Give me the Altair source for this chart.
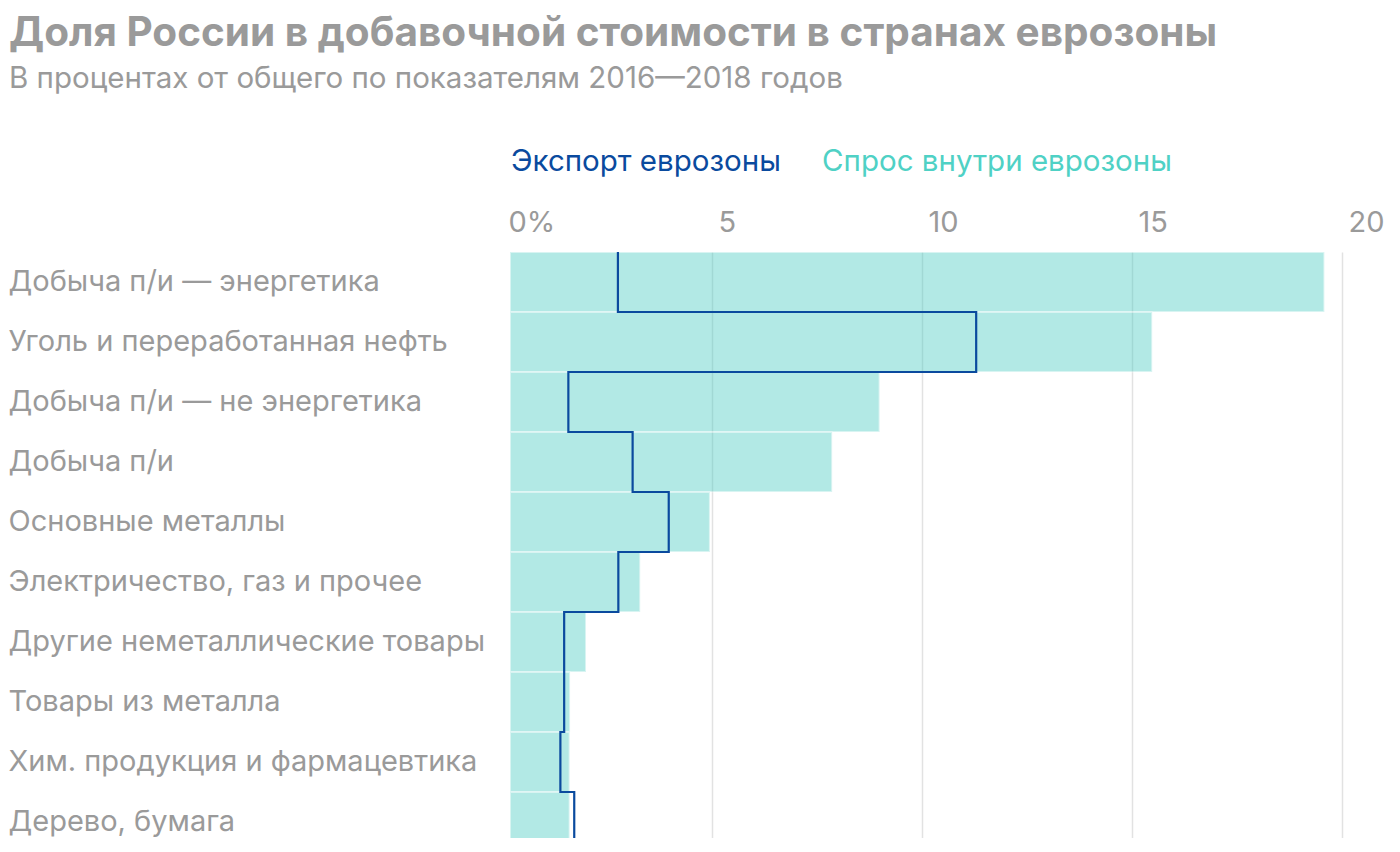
import altair as alt
import pandas as pd

categories = [
    "Добыча п/и — энергетика",
    "Уголь и переработанная нефть",
    "Добыча п/и — не энергетика",
    "Добыча п/и",
    "Основные металлы",
    "Электричество, газ и прочее",
    "Другие неметаллические товары",
    "Товары из металла",
    "Хим. продукция и фармацевтика",
    "Дерево, бумага",
]
demand_inside = [19.58, 15.48, 8.99, 7.86, 4.95, 3.29, 2.00, 1.62, 1.61, 1.61]
export_eurozone = [2.76, 11.29, 1.58, 3.11, 3.97, 2.77, 1.48, 1.48, 1.39, 1.72]
x_ticks = [0, 5, 10, 15, 20]
legend_names = ["Экспорт еврозоны", "Спрос внутри еврозоны"]
series_colors = ["#0a4a9e", "#4ecdc4"]

title_text = "Доля России в добавочной стоимости в странах еврозоны"
subtitle_text = "В процентах от общего по показателям 2016—2018 годов"

FONT = "Inter"
GRAY = "#9a9a9a"

bars_df = pd.DataFrame({"cat": categories, "demand": demand_inside})
n = len(categories)
line_df = pd.DataFrame({
    "idx": list(range(n)) + [n],
    "export": export_eurozone + [export_eurozone[-1]],
})

x_scale = alt.Scale(domain=[x_ticks[0], x_ticks[-1]], nice=False, zero=True)
row_range = [42, 642]

x_axis = alt.Axis(
    orient="top", values=x_ticks, grid=True, gridColor="#e2e2e2", gridWidth=1.5,
    gridOpacity={"condition": {"test": "datum.value === 0", "value": 0}, "value": 1},
    domain=False, ticks=False, labelAlign="left", labelOffset=6,
    labelBaseline="middle", labelPadding=-12, labelFontSize=29, labelColor=GRAY,
    labelFont=FONT, labelExpr="datum.value == 0 ? '0%' : datum.label", title=None,
)

y_axis = alt.Axis(
    domain=False, ticks=False, tickSize=0, labelAlign="left", labelPadding=494,
    labelFontSize=29, labelColor=GRAY, labelFont=FONT, labelLimit=600, title=None,
)

bars = alt.Chart(bars_df).mark_bar(
    color=series_colors[1], opacity=0.43, stroke="white", strokeWidth=2,
    strokeOpacity=0.5, x2Offset=8, clip=True,
).encode(
    x=alt.X("demand:Q", scale=x_scale, axis=x_axis),
    x2=alt.datum(0),
    y=alt.Y("cat:N", sort=categories,
            scale=alt.Scale(range=row_range, paddingInner=0, paddingOuter=0),
            axis=y_axis),
)

line = alt.Chart(line_df).mark_line(
    color=series_colors[0], strokeWidth=2.2, interpolate="step-before", clip=True,
).encode(
    x=alt.X("export:Q", scale=x_scale),
    y=alt.Y("idx:Q", scale=alt.Scale(domain=[0, n], range=row_range, nice=False, zero=False),
            axis=None),
    order="idx:Q",
)

dummy = pd.DataFrame({"a": [0]})


def text_layer(txt, x, y, size, color, weight="normal"):
    return alt.Chart(dummy).mark_text(
        text=txt, align="left", baseline="alphabetic", fontSize=size,
        font=FONT, color=color, fontWeight=weight,
    ).encode(x=alt.value(x), y=alt.value(y))


leg1 = text_layer(legend_names[0], 9, -39, 29.5, series_colors[0])
leg2 = text_layer(legend_names[1], 320, -39, 29.5, "#4fd1c5")
ttl = text_layer(title_text, -493, -164, 40.5, GRAY, "bold")
sub = text_layer(subtitle_text, -493, -122, 29.5, GRAY)

chart = alt.layer(bars, line, leg1, leg2, ttl, sub).resolve_scale(y="independent").properties(
    width=840, height=628,
    padding={"left": 494, "top": 202, "right": 45, "bottom": 0},
    autosize=alt.AutoSizeParams(type="none"),
).configure_view(stroke=None)

chart.save("out.html", embed_options={"renderer": "svg", "actions": False})
